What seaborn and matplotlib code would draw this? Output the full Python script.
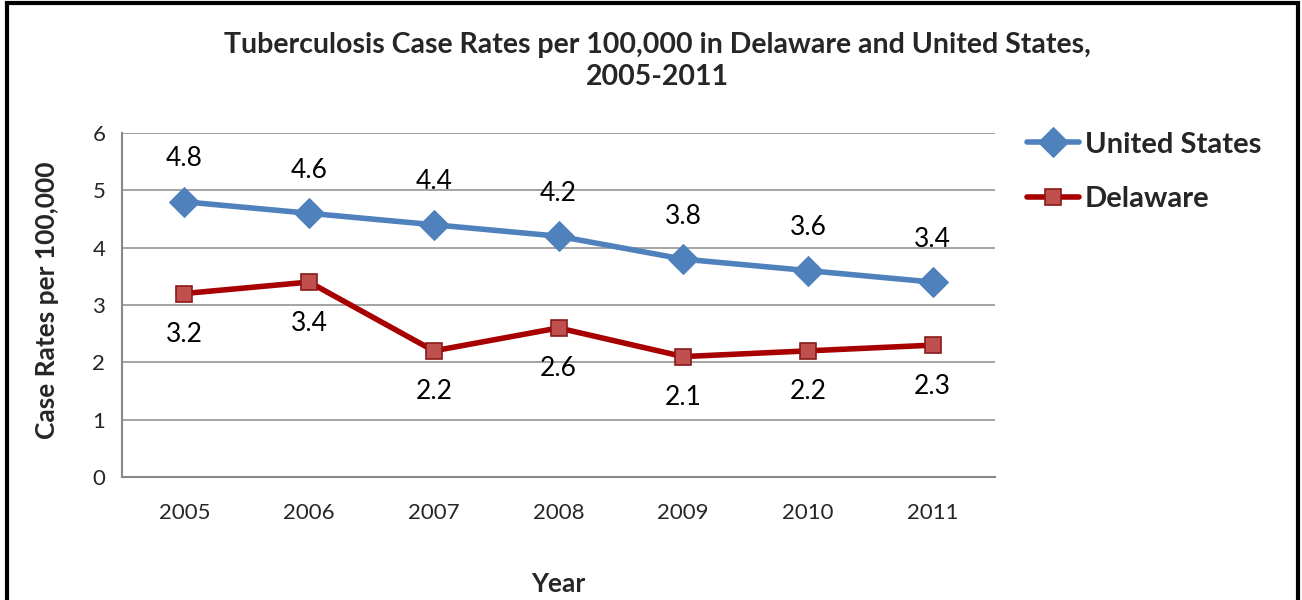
import matplotlib
matplotlib.use("Agg")
import matplotlib.pyplot as plt
import seaborn as sns
import pandas as pd
from matplotlib.patches import Rectangle

years = ["2005", "2006", "2007", "2008", "2009", "2010", "2011"]
us_rates = [4.8, 4.6, 4.4, 4.2, 3.8, 3.6, 3.4]
de_rates = [3.2, 3.4, 2.2, 2.6, 2.1, 2.2, 2.3]
series_names = ["United States", "Delaware"]
y_ticks = [0, 1, 2, 3, 4, 5, 6]

sns.set_theme(style="white")
plt.rcParams["font.family"] = ["Lato", "DejaVu Sans"]

fig = plt.figure(figsize=(13.02, 6), dpi=100)
ax = fig.add_axes([122 / 1302, 123 / 600, (995 - 122) / 1302, (477 - 133) / 600])

us_col = "#4F81BD"
de_line = "#A80000"
de_fill = "#C0504D"

x_pos = list(range(len(years)))
sns.lineplot(x=x_pos, y=us_rates, ax=ax, color=us_col, lw=4, marker="D",
             markersize=15, markeredgecolor=us_col, label=series_names[0])
sns.lineplot(x=x_pos, y=de_rates, ax=ax, color=de_line, lw=4, marker="s",
             markersize=12, markerfacecolor=de_fill, markeredgecolor="#8B1A1A",
             markeredgewidth=1.2, label=series_names[1])

for i, v in enumerate(us_rates):
    ax.annotate(f"{v}", (i, v), xytext=(0, 31), textcoords="offset points",
                ha="center", va="center", fontsize=19, color="black")
for i, v in enumerate(de_rates):
    ax.annotate(f"{v}", (i, v), xytext=(0, -29.5), textcoords="offset points",
                ha="center", va="center", fontsize=19, color="black")

ax.set_xlim(-0.5, len(years) - 0.5)
ax.set_ylim(0, 6)
ax.set_yticks(y_ticks)
ax.set_xticks(x_pos)
ax.set_xticklabels(years)
ax.set_xticks([i - 0.5 for i in range(len(years) + 1)], minor=True)
ax.tick_params(axis="x", which="major", length=0, pad=19, labelsize=16)
ax.tick_params(axis="x", which="minor", length=7, width=1.2, color="#878787", direction="out")
ax.tick_params(axis="y", which="major", length=6, width=1.2, color="#878787", direction="out",
               labelsize=16, pad=6)
ax.grid(axis="y", color="#8C8C8C", lw=1.1)
ax.set_axisbelow(True)
for s in ["top", "right"]:
    ax.spines[s].set_visible(False)
for s in ["left", "bottom"]:
    ax.spines[s].set_color("#878787")
    ax.spines[s].set_linewidth(1.5)

ax.set_xlabel("Year", fontsize=19, fontweight="bold")
ax.xaxis.set_label_coords(0.5, (477 - 572) / 344)
ax.set_ylabel("Case Rates per 100,000", fontsize=19, fontweight="bold")
ax.yaxis.set_label_coords((59 - 122) / 873, 0.515)

fig.text(0.505, 1 - 61 / 600,
         "Tuberculosis Case Rates per 100,000 in Delaware and United States,\n2005-2011",
         fontsize=20.5, fontweight="bold", ha="center", va="center", linespacing=1.3)

ax.legend(loc="upper left", bbox_to_anchor=(1015 / 1302, 1 - 120 / 600), bbox_transform=fig.transFigure,
          frameon=False, prop={"size": 21, "weight": "bold"}, handlelength=1.8,
          handletextpad=0.2, labelspacing=0.98, borderaxespad=0)

fig.patches.append(Rectangle((7 / 1302, -0.05), (1298 - 7) / 1302, 1.05 - 3 / 600,
                             transform=fig.transFigure, fill=False, edgecolor="black", lw=3))

fig.savefig("out.png", dpi=100)
